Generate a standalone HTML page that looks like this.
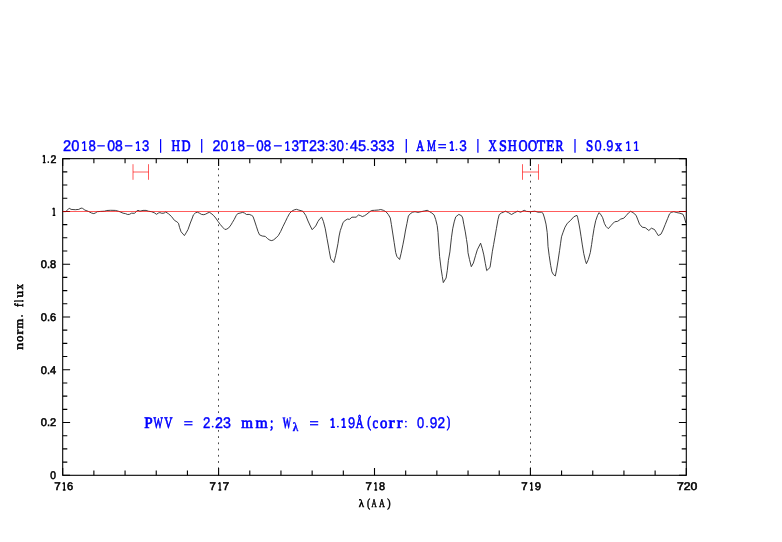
<!DOCTYPE html>
<html><head><meta charset="utf-8"><title>plot</title>
<style>html,body{margin:0;padding:0;background:#fff}svg{display:block;will-change:transform}text{font-kerning:none;font-variant-ligatures:none;text-rendering:geometricPrecision}</style></head>
<body>
<svg width="782" height="542" viewBox="0 0 782 542">
<rect width="782" height="542" fill="#fff"/>
<line x1="218.50" y1="162.05" x2="218.50" y2="475.30" stroke="#4a4a4a" stroke-width="1" stroke-dasharray="1.8 4.43"/>
<line x1="530.50" y1="162.05" x2="530.50" y2="475.30" stroke="#4a4a4a" stroke-width="1" stroke-dasharray="1.8 4.43"/>
<path d="M62.8 211.6 L65.8 211.6 L69.2 208.2 L71.1 209.4 L75.3 209.7 L78.8 209.4 L81.1 208.1 L82.6 208.4 L84.9 210.1 L88.4 211.4 L91.5 213.0 L93.8 213.6 L95.3 213.0 L97.2 211.7 L100.7 211.4 L104.5 211.2 L106.8 210.5 L110.7 210.3 L115.3 210.4 L118.3 211.2 L120.0 211.8 L123.1 213.2 L125.4 213.6 L127.7 214.5 L129.6 214.3 L131.5 213.2 L134.6 213.3 L136.5 211.2 L138.0 210.3 L140.0 211.2 L143.0 210.4 L146.1 210.4 L148.4 211.2 L151.5 211.7 L154.2 212.7 L156.5 214.3 L158.4 213.0 L159.9 212.6 L161.8 213.3 L164.1 213.1 L165.7 212.0 L168.4 213.7 L171.4 216.4 L174.5 220.4 L176.9 221.8 L178.5 223.3 L179.6 227.6 L181.1 231.8 L183.1 234.1 L184.4 235.6 L186.1 232.9 L188.0 229.5 L190.3 223.0 L192.3 218.0 L193.4 214.9 L195.3 213.0 L197.3 212.2 L199.2 213.0 L201.5 214.4 L203.8 214.7 L205.7 214.1 L208.0 212.8 L209.5 212.4 L211.1 213.4 L213.4 215.3 L215.7 218.0 L218.0 221.4 L220.3 224.5 L222.6 227.2 L224.9 229.5 L226.8 229.1 L228.7 227.9 L231.0 224.9 L232.3 222.6 L234.2 219.5 L236.1 215.7 L237.7 213.6 L240.0 213.1 L242.7 212.4 L244.6 213.1 L246.5 214.5 L249.2 214.4 L251.5 215.3 L253.0 216.4 L254.6 221.0 L256.5 226.8 L258.0 231.4 L259.5 234.8 L262.2 236.0 L265.3 236.4 L267.6 238.7 L269.9 240.2 L271.8 240.6 L273.7 239.8 L276.0 237.9 L278.3 235.6 L280.7 231.4 L283.0 226.4 L285.3 221.8 L287.3 217.6 L289.6 213.4 L291.9 211.1 L294.2 209.9 L296.5 209.3 L298.8 210.1 L301.1 210.7 L303.0 211.4 L305.7 215.3 L308.0 221.0 L310.3 226.0 L312.2 229.7 L315.7 226.0 L318.0 221.4 L319.9 218.7 L321.7 217.2 L323.4 221.4 L325.3 228.8 L327.0 238.5 L328.4 246.0 L329.2 250.7 L330.7 258.8 L333.8 262.6 L335.7 255.3 L338.0 243.4 L339.1 236.0 L340.3 230.5 L341.5 227.2 L343.1 222.4 L345.0 220.6 L347.3 219.1 L349.6 219.3 L351.9 217.2 L354.2 217.2 L356.1 217.2 L358.4 215.0 L360.3 215.5 L362.3 216.6 L364.6 215.7 L366.9 214.1 L369.2 212.2 L371.5 210.5 L374.5 210.3 L378.4 210.0 L380.7 209.5 L383.4 210.3 L386.0 211.8 L388.3 214.5 L390.3 218.0 L391.4 224.6 L392.7 233.0 L394.2 242.7 L395.7 252.6 L396.9 256.5 L399.6 259.5 L401.1 253.4 L403.0 244.2 L404.4 237.0 L405.4 231.0 L406.9 223.6 L408.4 216.0 L410.3 213.7 L412.7 212.2 L415.0 211.7 L418.0 212.4 L421.1 211.7 L424.2 211.0 L427.2 210.3 L429.2 211.4 L431.8 213.0 L434.1 214.9 L435.7 219.5 L437.2 225.6 L438.0 232.5 L438.5 241.0 L439.6 256.5 L441.1 268.8 L442.3 276.5 L443.3 282.6 L446.1 278.0 L447.3 270.3 L448.4 260.3 L449.9 251.9 L450.5 246.0 L451.5 237.2 L452.7 228.8 L454.2 221.9 L455.7 216.9 L458.8 214.4 L461.5 215.7 L462.7 218.0 L463.8 224.2 L465.3 231.9 L466.5 239.5 L467.5 246.0 L468.0 252.7 L469.5 259.6 L471.3 266.7 L473.4 263.0 L475.5 255.7 L477.3 249.8 L480.6 243.2 L482.3 248.7 L483.8 254.9 L485.3 263.3 L486.7 270.6 L490.0 267.5 L491.1 260.3 L492.3 251.8 L493.6 244.6 L494.9 237.2 L496.4 228.6 L498.0 219.4 L499.2 214.7 L501.5 212.9 L503.3 212.3 L505.4 211.2 L508.4 212.6 L511.5 214.5 L514.6 212.7 L517.6 211.2 L520.7 212.2 L524.2 210.3 L526.5 211.4 L530.3 211.7 L534.9 211.2 L538.0 212.2 L541.4 212.2 L543.0 213.3 L544.5 218.0 L546.0 224.1 L547.2 232.5 L547.7 240.0 L548.0 246.4 L549.2 255.7 L550.7 265.6 L551.9 271.8 L553.4 274.5 L555.3 276.0 L556.5 270.2 L558.0 261.0 L559.6 250.3 L560.5 243.8 L561.5 236.8 L563.1 232.2 L565.0 227.2 L567.3 223.3 L570.3 220.7 L573.8 216.8 L576.9 215.3 L577.6 217.2 L578.8 223.0 L579.9 229.1 L581.1 236.8 L582.2 244.1 L583.7 253.3 L585.3 260.3 L586.4 263.7 L588.3 259.5 L590.3 252.6 L591.6 244.6 L592.6 237.5 L594.1 228.3 L595.7 220.7 L597.6 215.3 L599.1 212.6 L601.0 214.9 L602.6 217.6 L604.5 223.7 L606.0 226.4 L608.3 228.7 L611.0 225.6 L612.3 224.1 L614.6 221.8 L617.7 221.3 L620.7 219.1 L623.8 218.2 L626.1 215.7 L628.4 213.0 L630.6 211.3 L633.0 212.6 L636.1 215.3 L637.6 219.1 L639.5 224.1 L642.2 227.2 L645.3 227.7 L648.8 230.5 L651.4 228.2 L654.5 229.5 L656.4 232.5 L658.3 235.6 L661.0 234.1 L663.0 230.0 L665.3 224.3 L667.6 218.6 L669.5 213.9 L671.1 212.4 L673.8 211.7 L676.8 212.6 L679.9 213.2 L683.0 214.3 L684.5 218.0 L686.0 223.3" fill="none" stroke="#262626" stroke-width="0.88" stroke-linejoin="round"/>
<rect x="62.70" y="158.65" width="623.60" height="316.65" fill="none" stroke="#000" stroke-width="1.08"/>
<path d="M62.70 475.30v-7.4M62.70 158.65v7.4M93.88 475.30v-4.7M93.88 158.65v4.7M125.06 475.30v-4.7M125.06 158.65v4.7M156.24 475.30v-4.7M156.24 158.65v4.7M187.42 475.30v-4.7M187.42 158.65v4.7M218.60 475.30v-7.4M218.60 158.65v7.4M249.78 475.30v-4.7M249.78 158.65v4.7M280.96 475.30v-4.7M280.96 158.65v4.7M312.14 475.30v-4.7M312.14 158.65v4.7M343.32 475.30v-4.7M343.32 158.65v4.7M374.50 475.30v-7.4M374.50 158.65v7.4M405.68 475.30v-4.7M405.68 158.65v4.7M436.86 475.30v-4.7M436.86 158.65v4.7M468.04 475.30v-4.7M468.04 158.65v4.7M499.22 475.30v-4.7M499.22 158.65v4.7M530.40 475.30v-7.4M530.40 158.65v7.4M561.58 475.30v-4.7M561.58 158.65v4.7M592.76 475.30v-4.7M592.76 158.65v4.7M623.94 475.30v-4.7M623.94 158.65v4.7M655.12 475.30v-4.7M655.12 158.65v4.7M686.30 475.30v-7.4M686.30 158.65v7.4M62.70 475.30h7.4M686.30 475.30h-7.4M62.70 462.11h4.6M686.30 462.11h-4.6M62.70 448.91h4.6M686.30 448.91h-4.6M62.70 435.72h4.6M686.30 435.72h-4.6M62.70 422.53h7.4M686.30 422.53h-7.4M62.70 409.33h4.6M686.30 409.33h-4.6M62.70 396.14h4.6M686.30 396.14h-4.6M62.70 382.94h4.6M686.30 382.94h-4.6M62.70 369.75h7.4M686.30 369.75h-7.4M62.70 356.56h4.6M686.30 356.56h-4.6M62.70 343.36h4.6M686.30 343.36h-4.6M62.70 330.17h4.6M686.30 330.17h-4.6M62.70 316.98h7.4M686.30 316.98h-7.4M62.70 303.78h4.6M686.30 303.78h-4.6M62.70 290.59h4.6M686.30 290.59h-4.6M62.70 277.39h4.6M686.30 277.39h-4.6M62.70 264.20h7.4M686.30 264.20h-7.4M62.70 251.01h4.6M686.30 251.01h-4.6M62.70 237.81h4.6M686.30 237.81h-4.6M62.70 224.62h4.6M686.30 224.62h-4.6M62.70 211.43h7.4M686.30 211.43h-7.4M62.70 198.23h4.6M686.30 198.23h-4.6M62.70 185.04h4.6M686.30 185.04h-4.6M62.70 171.84h4.6M686.30 171.84h-4.6M62.70 158.65h7.4M686.30 158.65h-7.4" stroke="#000" stroke-width="1.1" fill="none"/>
<line x1="62.70" y1="211.50" x2="686.30" y2="211.50" stroke="#ff0000" stroke-opacity="0.64" stroke-width="1"/>
<path d="M133.0 164.2V179.8M148.5 164.2V179.8M133.0 172H148.5" stroke="#ff0000" stroke-opacity="0.64" stroke-width="1" fill="none"/>
<path d="M522.5 164.2V179.8M538.5 164.2V179.8M522.5 172H538.5" stroke="#ff0000" stroke-opacity="0.64" stroke-width="1" fill="none"/>
<path d="M82.20 143.36L84.60 141.40V150.30M82.40 150.30H86.60" fill="none" stroke="#0000ff" stroke-width="1.35" stroke-linejoin="bevel"/>
<line x1="97.30" y1="145.85" x2="104.80" y2="145.85" stroke="#0000ff" stroke-width="1.25"/>
<line x1="124.90" y1="145.85" x2="132.40" y2="145.85" stroke="#0000ff" stroke-width="1.25"/>
<path d="M135.90 143.36L138.30 141.40V150.30M136.10 150.30H140.30" fill="none" stroke="#0000ff" stroke-width="1.35" stroke-linejoin="bevel"/>
<line x1="160.60" y1="139.10" x2="160.60" y2="152.80" stroke="#0000ff" stroke-width="1.25"/>
<line x1="201.70" y1="139.10" x2="201.70" y2="152.80" stroke="#0000ff" stroke-width="1.25"/>
<path d="M231.20 143.36L233.60 141.40V150.30M231.40 150.30H235.60" fill="none" stroke="#0000ff" stroke-width="1.35" stroke-linejoin="bevel"/>
<line x1="246.60" y1="145.85" x2="254.10" y2="145.85" stroke="#0000ff" stroke-width="1.25"/>
<line x1="273.90" y1="145.85" x2="281.80" y2="145.85" stroke="#0000ff" stroke-width="1.25"/>
<path d="M285.30 143.36L287.70 141.40V150.30M285.50 150.30H289.70" fill="none" stroke="#0000ff" stroke-width="1.35" stroke-linejoin="bevel"/>
<circle cx="326.70" cy="143.70" r="0.9" fill="#0000ff"/>
<circle cx="326.70" cy="149.60" r="0.9" fill="#0000ff"/>
<circle cx="346.90" cy="143.70" r="0.9" fill="#0000ff"/>
<circle cx="346.90" cy="149.60" r="0.9" fill="#0000ff"/>
<circle cx="368.00" cy="149.60" r="0.9" fill="#0000ff"/>
<line x1="406.30" y1="139.10" x2="406.30" y2="152.80" stroke="#0000ff" stroke-width="1.25"/>
<line x1="438.30" y1="144.70" x2="446.00" y2="144.70" stroke="#0000ff" stroke-width="1.25"/>
<line x1="438.30" y1="147.70" x2="446.00" y2="147.70" stroke="#0000ff" stroke-width="1.25"/>
<path d="M449.70 143.36L452.10 141.40V150.30M449.90 150.30H454.10" fill="none" stroke="#0000ff" stroke-width="1.5" stroke-linejoin="bevel"/>
<circle cx="456.50" cy="149.60" r="0.9" fill="#0000ff"/>
<line x1="477.90" y1="139.10" x2="477.90" y2="152.80" stroke="#0000ff" stroke-width="1.25"/>
<line x1="575.00" y1="139.10" x2="575.00" y2="152.80" stroke="#0000ff" stroke-width="1.25"/>
<circle cx="604.30" cy="149.60" r="0.9" fill="#0000ff"/>
<path d="M626.20 143.36L628.60 141.40V150.30M626.40 150.30H630.60" fill="none" stroke="#0000ff" stroke-width="1.35" stroke-linejoin="bevel"/>
<path d="M634.10 143.36L636.50 141.40V150.30M634.30 150.30H638.50" fill="none" stroke="#0000ff" stroke-width="1.35" stroke-linejoin="bevel"/>
<line x1="184.20" y1="421.75" x2="192.50" y2="421.75" stroke="#0000ff" stroke-width="1.25"/>
<line x1="184.20" y1="424.75" x2="192.50" y2="424.75" stroke="#0000ff" stroke-width="1.25"/>
<circle cx="212.70" cy="426.60" r="0.9" fill="#0000ff"/>
<line x1="310.00" y1="421.75" x2="318.20" y2="421.75" stroke="#0000ff" stroke-width="1.25"/>
<line x1="310.00" y1="424.75" x2="318.20" y2="424.75" stroke="#0000ff" stroke-width="1.25"/>
<path d="M330.50 420.31L332.90 418.35V427.25M330.70 427.25H334.90" fill="none" stroke="#0000ff" stroke-width="1.5" stroke-linejoin="bevel"/>
<circle cx="337.90" cy="426.60" r="0.9" fill="#0000ff"/>
<path d="M341.50 420.31L343.90 418.35V427.25M341.70 427.25H345.90" fill="none" stroke="#0000ff" stroke-width="1.5" stroke-linejoin="bevel"/>
<circle cx="405.90" cy="421.60" r="0.9" fill="#0000ff"/>
<circle cx="405.90" cy="426.60" r="0.9" fill="#0000ff"/>
<circle cx="427.00" cy="426.60" r="0.9" fill="#0000ff"/>
<path d="M42.70 156.53L44.30 155.25V162.65M42.85 162.65H45.55" fill="none" stroke="#000" stroke-width="1.3" stroke-linejoin="bevel"/>
<circle cx="48.30" cy="162.05" r="0.85" fill="#000"/>
<path d="M52.50 209.30L54.10 208.03V215.43M52.65 215.43H55.35" fill="none" stroke="#000" stroke-width="1.3" stroke-linejoin="bevel"/>
<path d="M62.70 483.88L64.30 482.60V490.00M62.85 490.00H65.55" fill="none" stroke="#000" stroke-width="1.3" stroke-linejoin="bevel"/>
<path d="M218.40 483.88L220.00 482.60V490.00M218.55 490.00H221.25" fill="none" stroke="#000" stroke-width="1.3" stroke-linejoin="bevel"/>
<path d="M374.30 483.88L375.90 482.60V490.00M374.45 490.00H377.15" fill="none" stroke="#000" stroke-width="1.3" stroke-linejoin="bevel"/>
<path d="M530.10 483.88L531.70 482.60V490.00M530.25 490.00H532.95" fill="none" stroke="#000" stroke-width="1.3" stroke-linejoin="bevel"/>
<circle cx="22.0" cy="315.9" r="0.95" fill="#000"/>
<text transform="translate(63.10 150.80) scale(1.0147 1.06)" font-family='"Liberation Sans", sans-serif' font-size="14.5" font-weight="normal" fill="#0000ff" stroke="#0000ff" stroke-width="0.4">20</text>
<text transform="translate(88.40 150.80) scale(0.9125 1.06)" font-family='"Liberation Sans", sans-serif' font-size="14.5" font-weight="normal" fill="#0000ff" stroke="#0000ff" stroke-width="0.4">8</text>
<text transform="translate(107.20 150.80) scale(0.9649 1.06)" font-family='"Liberation Sans", sans-serif' font-size="14.5" font-weight="normal" fill="#0000ff" stroke="#0000ff" stroke-width="0.4">08</text>
<text transform="translate(142.00 150.80) scale(0.9000 1.06)" font-family='"Liberation Sans", sans-serif' font-size="14.5" font-weight="normal" fill="#0000ff" stroke="#0000ff" stroke-width="0.4">3</text>
<text transform="translate(171.60 150.95) scale(0.8182 1.09)" font-family='"Liberation Serif", serif' font-size="14.6" font-weight="normal" fill="#0000ff" stroke="#0000ff" stroke-width="0.65">H</text>
<text transform="translate(181.60 150.95) scale(0.8600 1.09)" font-family='"Liberation Serif", serif' font-size="14.6" font-weight="normal" fill="#0000ff" stroke="#0000ff" stroke-width="0.65">D</text>
<text transform="translate(212.60 150.80) scale(0.9836 1.06)" font-family='"Liberation Sans", sans-serif' font-size="14.5" font-weight="normal" fill="#0000ff" stroke="#0000ff" stroke-width="0.4">20</text>
<text transform="translate(237.40 150.80) scale(0.9250 1.06)" font-family='"Liberation Sans", sans-serif' font-size="14.5" font-weight="normal" fill="#0000ff" stroke="#0000ff" stroke-width="0.4">8</text>
<text transform="translate(256.20 150.80) scale(0.9213 1.06)" font-family='"Liberation Sans", sans-serif' font-size="14.5" font-weight="normal" fill="#0000ff" stroke="#0000ff" stroke-width="0.4">08</text>
<text transform="translate(291.60 150.80) scale(0.9375 1.06)" font-family='"Liberation Sans", sans-serif' font-size="14.5" font-weight="normal" fill="#0000ff" stroke="#0000ff" stroke-width="0.4">3</text>
<text transform="translate(299.60 150.95) scale(0.9667 1.09)" font-family='"Liberation Serif", serif' font-size="14.6" font-weight="normal" fill="#0000ff" stroke="#0000ff" stroke-width="0.65">T</text>
<text transform="translate(308.90 150.80) scale(0.9898 1.06)" font-family='"Liberation Sans", sans-serif' font-size="14.5" font-weight="normal" fill="#0000ff" stroke="#0000ff" stroke-width="0.4">23</text>
<text transform="translate(329.00 150.80) scale(0.9213 1.06)" font-family='"Liberation Sans", sans-serif' font-size="14.5" font-weight="normal" fill="#0000ff" stroke="#0000ff" stroke-width="0.4">30</text>
<text transform="translate(349.70 150.80) scale(1.0147 1.06)" font-family='"Liberation Sans", sans-serif' font-size="14.5" font-weight="normal" fill="#0000ff" stroke="#0000ff" stroke-width="0.4">45</text>
<text transform="translate(370.30 150.80) scale(0.9988 1.06)" font-family='"Liberation Sans", sans-serif' font-size="14.5" font-weight="normal" fill="#0000ff" stroke="#0000ff" stroke-width="0.4">333</text>
<text transform="translate(416.30 150.95) scale(0.7545 1.09)" font-family='"Liberation Serif", serif' font-size="14.6" font-weight="normal" fill="#0000ff" stroke="#0000ff" stroke-width="0.65">A</text>
<text transform="translate(427.10 150.95) scale(0.6923 1.09)" font-family='"Liberation Serif", serif' font-size="14.6" font-weight="normal" fill="#0000ff" stroke="#0000ff" stroke-width="0.65">M</text>
<text transform="translate(459.30 150.80) scale(0.9375 1.06)" font-family='"Liberation Sans", sans-serif' font-size="14.5" font-weight="normal" fill="#0000ff" stroke="#0000ff" stroke-width="0.4">3</text>
<text transform="translate(488.50 150.95) scale(0.7818 1.09)" font-family='"Liberation Serif", serif' font-size="14.6" font-weight="normal" fill="#0000ff" stroke="#0000ff" stroke-width="0.65">X</text>
<text transform="translate(498.90 150.95) scale(0.9750 1.09)" font-family='"Liberation Serif", serif' font-size="14.6" font-weight="normal" fill="#0000ff" stroke="#0000ff" stroke-width="0.65">S</text>
<text transform="translate(507.70 150.95) scale(0.8545 1.09)" font-family='"Liberation Serif", serif' font-size="14.6" font-weight="normal" fill="#0000ff" stroke="#0000ff" stroke-width="0.65">H</text>
<text transform="translate(518.40 150.95) scale(0.8600 1.09)" font-family='"Liberation Serif", serif' font-size="14.6" font-weight="normal" fill="#0000ff" stroke="#0000ff" stroke-width="0.65">O</text>
<text transform="translate(527.90 150.95) scale(0.8600 1.09)" font-family='"Liberation Serif", serif' font-size="14.6" font-weight="normal" fill="#0000ff" stroke="#0000ff" stroke-width="0.65">O</text>
<text transform="translate(536.80 150.95) scale(0.9444 1.09)" font-family='"Liberation Serif", serif' font-size="14.6" font-weight="normal" fill="#0000ff" stroke="#0000ff" stroke-width="0.65">T</text>
<text transform="translate(546.30 150.95) scale(0.9111 1.09)" font-family='"Liberation Serif", serif' font-size="14.6" font-weight="normal" fill="#0000ff" stroke="#0000ff" stroke-width="0.65">E</text>
<text transform="translate(555.50 150.95) scale(0.8200 1.09)" font-family='"Liberation Serif", serif' font-size="14.6" font-weight="normal" fill="#0000ff" stroke="#0000ff" stroke-width="0.65">R</text>
<text transform="translate(585.90 150.95) scale(0.8875 1.09)" font-family='"Liberation Serif", serif' font-size="14.6" font-weight="normal" fill="#0000ff" stroke="#0000ff" stroke-width="0.65">S</text>
<text transform="translate(594.40 150.80) scale(0.8875 1.06)" font-family='"Liberation Sans", sans-serif' font-size="14.5" font-weight="normal" fill="#0000ff" stroke="#0000ff" stroke-width="0.4">0</text>
<text transform="translate(606.30 150.80) scale(0.8875 1.06)" font-family='"Liberation Sans", sans-serif' font-size="14.5" font-weight="normal" fill="#0000ff" stroke="#0000ff" stroke-width="0.4">9</text>
<text transform="translate(615.10 150.95) scale(0.9375 1.09)" font-family='"Liberation Serif", serif' font-size="15.0" font-weight="normal" fill="#0000ff" stroke="#0000ff" stroke-width="0.65">x</text>
<text transform="translate(144.30 427.50) scale(1.0375 1.09)" font-family='"Liberation Serif", serif' font-size="14.6" font-weight="normal" fill="#0000ff" stroke="#0000ff" stroke-width="0.65">P</text>
<text transform="translate(153.50 427.50) scale(0.6714 1.09)" font-family='"Liberation Serif", serif' font-size="14.6" font-weight="normal" fill="#0000ff" stroke="#0000ff" stroke-width="0.65">W</text>
<text transform="translate(164.30 427.50) scale(0.7818 1.09)" font-family='"Liberation Serif", serif' font-size="14.6" font-weight="normal" fill="#0000ff" stroke="#0000ff" stroke-width="0.65">V</text>
<text transform="translate(203.00 427.50) scale(0.9125 1.06)" font-family='"Liberation Sans", sans-serif' font-size="14.5" font-weight="normal" fill="#0000ff" stroke="#0000ff" stroke-width="0.4">2</text>
<text transform="translate(215.10 427.50) scale(0.9836 1.06)" font-family='"Liberation Sans", sans-serif' font-size="14.5" font-weight="normal" fill="#0000ff" stroke="#0000ff" stroke-width="0.4">23</text>
<text transform="translate(241.20 427.50) scale(1.0333 1.09)" font-family='"Liberation Serif", serif' font-size="14.6" font-weight="normal" fill="#0000ff" stroke="#0000ff" stroke-width="0.65">m</text>
<text transform="translate(255.40 427.50) scale(1.0667 1.09)" font-family='"Liberation Serif", serif' font-size="14.6" font-weight="normal" fill="#0000ff" stroke="#0000ff" stroke-width="0.65">m</text>
<text transform="translate(269.90 427.50) scale(0.8333 1.09)" font-family='"Liberation Serif", serif' font-size="14.6" font-weight="normal" fill="#0000ff" stroke="#0000ff" stroke-width="0.65">;</text>
<text transform="translate(282.60 427.50) scale(0.6000 1.09)" font-family='"Liberation Serif", serif' font-size="14.6" font-weight="bold" fill="#0000ff" stroke="#0000ff" stroke-width="0.3">W</text>
<text transform="translate(292.70 431.20) scale(0.8857 1.0)" font-family='"Liberation Serif", serif' font-size="12.4" font-weight="bold" fill="#0000ff" stroke="#0000ff" stroke-width="0.35">λ</text>
<text transform="translate(348.10 427.50) scale(0.8875 1.06)" font-family='"Liberation Sans", sans-serif' font-size="14.5" font-weight="normal" fill="#0000ff" stroke="#0000ff" stroke-width="0.4">9</text>
<text transform="translate(355.80 427.50) scale(0.7455 1.09)" font-family='"Liberation Serif", serif' font-size="14.6" font-weight="normal" fill="#0000ff" stroke="#0000ff" stroke-width="0.65">Å</text>
<text transform="translate(367.30 426.70) scale(0.8000 1.09)" font-family='"Liberation Serif", serif' font-size="14.6" font-weight="normal" fill="#0000ff" stroke="#0000ff" stroke-width="0.65">(</text>
<text transform="translate(372.60 427.50) scale(0.8571 1.09)" font-family='"Liberation Serif", serif' font-size="14.6" font-weight="normal" fill="#0000ff" stroke="#0000ff" stroke-width="0.65">c</text>
<text transform="translate(379.90 427.50) scale(1.0143 1.09)" font-family='"Liberation Serif", serif' font-size="14.6" font-weight="normal" fill="#0000ff" stroke="#0000ff" stroke-width="0.65">o</text>
<text transform="translate(388.40 427.50) scale(1.2600 1.09)" font-family='"Liberation Serif", serif' font-size="14.6" font-weight="normal" fill="#0000ff" stroke="#0000ff" stroke-width="0.65">r</text>
<text transform="translate(396.80 427.50) scale(1.1800 1.09)" font-family='"Liberation Serif", serif' font-size="14.6" font-weight="normal" fill="#0000ff" stroke="#0000ff" stroke-width="0.65">r</text>
<text transform="translate(417.10 427.50) scale(0.8875 1.06)" font-family='"Liberation Sans", sans-serif' font-size="14.5" font-weight="normal" fill="#0000ff" stroke="#0000ff" stroke-width="0.4">0</text>
<text transform="translate(429.80 427.50) scale(0.9400 1.06)" font-family='"Liberation Sans", sans-serif' font-size="14.5" font-weight="normal" fill="#0000ff" stroke="#0000ff" stroke-width="0.4">92</text>
<text transform="translate(446.70 426.70) scale(0.7200 1.09)" font-family='"Liberation Serif", serif' font-size="14.6" font-weight="normal" fill="#0000ff" stroke="#0000ff" stroke-width="0.65">)</text>
<text transform="translate(50.40 162.60) scale(0.9500 1.0)" font-family='"Liberation Sans", sans-serif' font-size="11.1" font-weight="normal" fill="#000" stroke="#000" stroke-width="0.55">2</text>
<text transform="translate(40.80 268.15) scale(0.9966 1.0)" font-family='"Liberation Sans", sans-serif' font-size="11.1" font-weight="normal" fill="#000" stroke="#000" stroke-width="0.55">0.8</text>
<text transform="translate(40.80 320.93) scale(0.9966 1.0)" font-family='"Liberation Sans", sans-serif' font-size="11.1" font-weight="normal" fill="#000" stroke="#000" stroke-width="0.55">0.6</text>
<text transform="translate(40.80 373.70) scale(0.9966 1.0)" font-family='"Liberation Sans", sans-serif' font-size="11.1" font-weight="normal" fill="#000" stroke="#000" stroke-width="0.55">0.4</text>
<text transform="translate(40.80 426.48) scale(0.9966 1.0)" font-family='"Liberation Sans", sans-serif' font-size="11.1" font-weight="normal" fill="#000" stroke="#000" stroke-width="0.55">0.2</text>
<text transform="translate(50.30 479.25) scale(0.9167 1.0)" font-family='"Liberation Sans", sans-serif' font-size="11.1" font-weight="normal" fill="#000" stroke="#000" stroke-width="0.55">0</text>
<text transform="translate(54.20 489.95) scale(1.0500 1.0)" font-family='"Liberation Sans", sans-serif' font-size="11.1" font-weight="normal" fill="#000" stroke="#000" stroke-width="0.55">7</text>
<text transform="translate(66.90 489.95) scale(1.0000 1.0)" font-family='"Liberation Sans", sans-serif' font-size="11.1" font-weight="normal" fill="#000" stroke="#000" stroke-width="0.55">6</text>
<text transform="translate(209.50 489.95) scale(1.0333 1.0)" font-family='"Liberation Sans", sans-serif' font-size="11.1" font-weight="normal" fill="#000" stroke="#000" stroke-width="0.55">7</text>
<text transform="translate(222.70 489.95) scale(1.0333 1.0)" font-family='"Liberation Sans", sans-serif' font-size="11.1" font-weight="normal" fill="#000" stroke="#000" stroke-width="0.55">7</text>
<text transform="translate(365.50 489.95) scale(1.0333 1.0)" font-family='"Liberation Sans", sans-serif' font-size="11.1" font-weight="normal" fill="#000" stroke="#000" stroke-width="0.55">7</text>
<text transform="translate(379.00 489.95) scale(0.9833 1.0)" font-family='"Liberation Sans", sans-serif' font-size="11.1" font-weight="normal" fill="#000" stroke="#000" stroke-width="0.55">8</text>
<text transform="translate(521.20 489.95) scale(1.0333 1.0)" font-family='"Liberation Sans", sans-serif' font-size="11.1" font-weight="normal" fill="#000" stroke="#000" stroke-width="0.55">7</text>
<text transform="translate(534.70 489.95) scale(1.0167 1.0)" font-family='"Liberation Sans", sans-serif' font-size="11.1" font-weight="normal" fill="#000" stroke="#000" stroke-width="0.55">9</text>
<text transform="translate(676.90 489.95) scale(1.1014 1.0)" font-family='"Liberation Sans", sans-serif' font-size="11.1" font-weight="normal" fill="#000" stroke="#000" stroke-width="0.55">720</text>
<text transform="translate(358.70 506.80) scale(0.9833 1.0)" font-family='"Liberation Serif", serif' font-size="11.0" font-weight="normal" fill="#000" stroke="#000" stroke-width="0.55">λ</text>
<text transform="translate(366.90 506.60) scale(0.7750 1.0)" font-family='"Liberation Serif", serif' font-size="12.2" font-weight="normal" fill="#000" stroke="#000" stroke-width="0.55">(</text>
<text transform="translate(371.40 506.80) scale(0.6111 1.0)" font-family='"Liberation Serif", serif' font-size="11.8" font-weight="normal" fill="#000" stroke="#000" stroke-width="0.55">A</text>
<text transform="translate(379.10 506.80) scale(0.6889 1.0)" font-family='"Liberation Serif", serif' font-size="11.8" font-weight="normal" fill="#000" stroke="#000" stroke-width="0.55">A</text>
<text transform="translate(387.20 506.60) scale(0.8250 1.0)" font-family='"Liberation Serif", serif' font-size="12.2" font-weight="normal" fill="#000" stroke="#000" stroke-width="0.55">)</text>
<text transform="translate(23.00 349.80) rotate(-90) scale(1.1333 1.0)" font-family='"Liberation Serif", serif' font-size="12.2" font-weight="normal" fill="#000" stroke="#000" stroke-width="0.55">n</text>
<text transform="translate(23.00 342.10) rotate(-90) scale(1.0667 1.0)" font-family='"Liberation Serif", serif' font-size="12.2" font-weight="normal" fill="#000" stroke="#000" stroke-width="0.55">o</text>
<text transform="translate(23.00 334.50) rotate(-90) scale(1.2000 1.0)" font-family='"Liberation Serif", serif' font-size="12.2" font-weight="normal" fill="#000" stroke="#000" stroke-width="0.55">r</text>
<text transform="translate(23.00 328.70) rotate(-90) scale(1.0400 1.0)" font-family='"Liberation Serif", serif' font-size="12.2" font-weight="normal" fill="#000" stroke="#000" stroke-width="0.55">m</text>
<text transform="translate(23.00 306.80) rotate(-90) scale(0.7600 1.0)" font-family='"Liberation Serif", serif' font-size="12.2" font-weight="normal" fill="#000" stroke="#000" stroke-width="0.8">f</text>
<text transform="translate(23.00 302.10) rotate(-90) scale(0.6000 1.0)" font-family='"Liberation Serif", serif' font-size="12.2" font-weight="normal" fill="#000" stroke="#000" stroke-width="0.8">l</text>
<text transform="translate(23.00 297.80) rotate(-90) scale(1.1333 1.0)" font-family='"Liberation Serif", serif' font-size="12.2" font-weight="normal" fill="#000" stroke="#000" stroke-width="0.55">u</text>
<text transform="translate(23.00 289.50) rotate(-90) scale(0.9000 1.0)" font-family='"Liberation Serif", serif' font-size="12.2" font-weight="normal" fill="#000" stroke="#000" stroke-width="0.55">x</text>
</svg></body></html>
